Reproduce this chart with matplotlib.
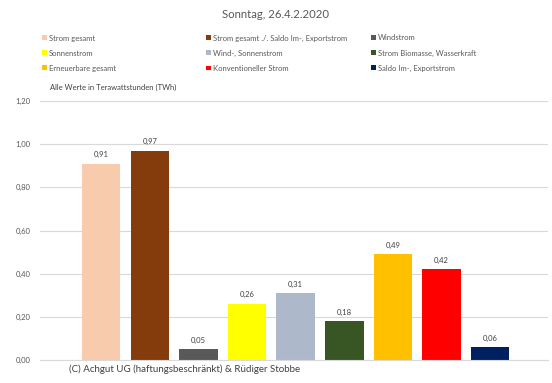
import matplotlib
matplotlib.use("Agg")
import matplotlib.pyplot as plt
from matplotlib.patches import Patch

# Data
categories = [
    "Strom gesamt",
    "Strom gesamt ./. Saldo Im-, Exportstrom",
    "Windstrom",
    "Sonnenstrom",
    "Wind-, Sonnenstrom",
    "Strom Biomasse, Wasserkraft",
    "Erneuerbare gesamt",
    "Konventioneller Strom",
    "Saldo Im-, Exportstrom",
]
values = [0.91, 0.97, 0.05, 0.26, 0.31, 0.18, 0.49, 0.42, 0.06]
colors = ["#F8CBAD", "#843C0C", "#595959", "#FFFF00", "#ADB9CA",
          "#375623", "#FFC000", "#FF0000", "#002060"]
yticks = [0.0, 0.2, 0.4, 0.6, 0.8, 1.0, 1.2]

plt.rcParams["font.family"] = ["Lato", "DejaVu Sans"]

W, H = 552, 383
fig = plt.figure(figsize=(W / 100, H / 100), dpi=100)
ax = fig.add_axes([40 / W, 23 / H, 508 / W, 259 / H])

x = list(range(len(values)))
bars = ax.bar(x, values, width=0.79, color=colors, zorder=2)

for xi, v in zip(x, values):
    ax.text(xi, v + 0.025, f"{v:.2f}".replace(".", ","), ha="center", va="bottom",
            fontsize=5.5, color="#404040")

ax.set_xlim(-1.26, 9.19)
ax.set_ylim(0, 1.2)
ax.set_yticks(yticks)
ax.set_yticklabels([f"{t:.2f}".replace(".", ",") for t in yticks])
ax.tick_params(axis="y", length=0, labelsize=5.5, labelcolor="#595959", pad=7)
ax.set_xticks([])
ax.grid(axis="y", color="#D9D9D9", linewidth=0.8, zorder=0)
for s in ["top", "right", "left"]:
    ax.spines[s].set_visible(False)
ax.spines["bottom"].set_color("#D9D9D9")
ax.spines["bottom"].set_linewidth(0.8)

fig.text(276 / W, 1 - 14 / H, "Sonntag, 26.4.2.2020", ha="center", va="center",
         fontsize=8.2, color="#595959")

# legend, row-major like the original: one legend per column
col_x = [42, 206, 371]
for c in range(3):
    idx = [c, c + 3, c + 6]
    handles = [Patch(facecolor=colors[i], label=categories[i]) for i in idx]
    leg = fig.legend(handles=handles, ncol=1, loc="upper left",
                     bbox_to_anchor=(col_x[c] / W, 1 - 34.5 / H), frameon=False,
                     fontsize=5.5, labelcolor="#595959", handlelength=0.6,
                     handleheight=0.6, handletextpad=0.3, labelspacing=1.05,
                     borderaxespad=0, borderpad=0)

fig.text(50 / W, 1 - 87 / H, "Alle Werte in Terawattstunden (TWh)", ha="left",
         va="center", fontsize=5.5, color="#404040")

fig.text(69 / W, 1 - 369 / H, "(C) Achgut UG (haftungsbeschränkt) & Rüdiger Stobbe",
         ha="left", va="center", fontsize=7, color="#404040",
         bbox=dict(facecolor="white", edgecolor="none", pad=2))

fig.savefig("out.png", dpi=100)
